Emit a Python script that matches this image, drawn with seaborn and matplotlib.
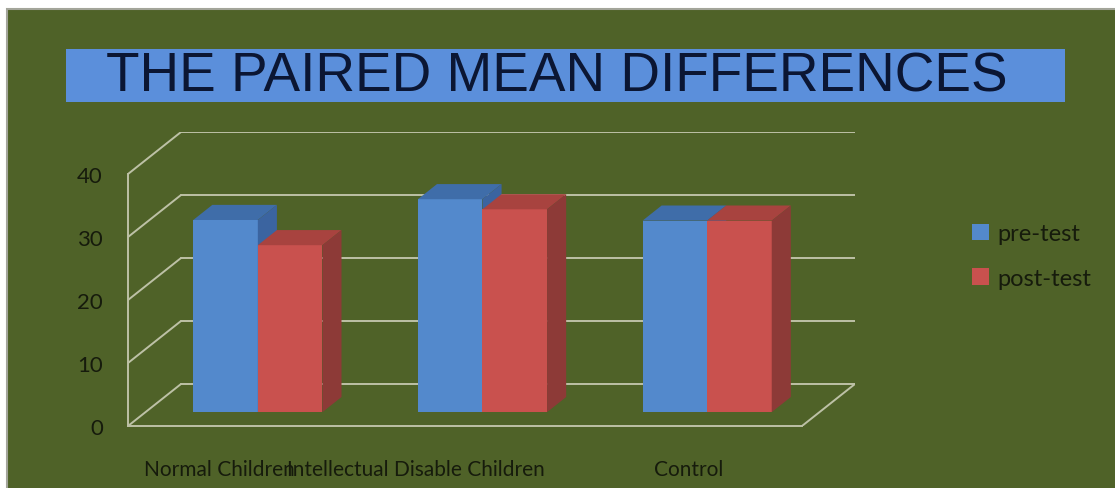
import matplotlib
matplotlib.use("Agg")
import matplotlib.pyplot as plt
from matplotlib.patches import Rectangle, Polygon, Patch
from matplotlib.transforms import ScaledTranslation
import pandas as pd
import seaborn as sns

# Chart data
groups = ["Normal Children", "Intellectual Disable Children", "Control"]
tests = ["pre-test", "post-test"]
pre_test = [30.5, 33.8, 30.4]
post_test = [26.5, 32.2, 30.4]
y_ticks = [0, 10, 20, 30, 40]
title = "THE PAIRED MEAN DIFFERENCES"

# Styling
BG = "#4F6228"
GRID = "#BDC1A6"
TXT = "#161b0c"
FRONT = {"pre-test": "#5389CC", "post-test": "#C9514E"}
TOP = {"pre-test": "#3F6DA9", "post-test": "#A8433F"}
SIDE = {"pre-test": "#3B64A0", "post-test": "#8D3A37"}

# Oblique depth of the 3-D box (category units, value units)
DX, DY = 0.236, 6.67
FRONT_D, BAR_D = 0.33, 0.36

sns.set_style("white")
plt.rcParams["font.family"] = ["Lato", "DejaVu Sans"]

df = pd.DataFrame({
    "group": groups * 2,
    "test": [tests[0]] * 3 + [tests[1]] * 3,
    "score": pre_test + post_test,
})

fig = plt.figure(figsize=(11.15, 4.89), dpi=100)
fig.patch.set_facecolor("white")
fig.patches.append(Rectangle((7 / 1115, -0.02), 1 - 7 / 1115 + 0.01, (489 - 10) / 489 + 0.02,
                             transform=fig.transFigure, facecolor=BG,
                             edgecolor="#A3A59A", linewidth=1.5, zorder=-2))

# Title banner
fig.patches.append(Rectangle((66 / 1115, 1 - 103 / 489), (1065 - 66) / 1115, 53 / 489,
                             transform=fig.transFigure, facecolor="#5B8FDB",
                             edgecolor="none", zorder=-1))
fig.text(557 / 1115, 1 - 78 / 489, title, ha="center", va="center",
         fontsize=39.5, color="#0b1633", family=["Liberation Sans", "DejaVu Sans"])

ax = fig.add_axes([128 / 1115, (489 - 427) / 489, (855 - 128) / 1115, (427 - 133) / 489])
ax.set_zorder(1)
ax.set_facecolor("none")
ax.patch.set_visible(False)

sns.barplot(data=df, x="group", y="score", hue="test", order=groups,
            hue_order=tests, palette=[FRONT[t] for t in tests], width=0.575,
            saturation=1, errorbar=None, legend=False, ax=ax)

ax.set_xlim(-0.5, 2.5 + DX)
ax.set_ylim(0, 40 + DY)

# Back wall gridlines and the oblique connectors of the 3-D frame
for v in y_ticks:
    ax.plot([-0.5 + DX, 2.5 + DX], [v + DY, v + DY], color=GRID, lw=1.4, zorder=1)
    ax.plot([-0.5, -0.5 + DX], [v, v + DY], color=GRID, lw=1.4, zorder=1)
ax.plot([2.5, 2.5 + DX], [0, DY], color=GRID, lw=1.4, zorder=1)

# Turn each flat bar into a box: shift the front face into depth, add top and side
fx, fy = DX * FRONT_D, DY * FRONT_D
bx, by = DX * BAR_D, DY * BAR_D
for k, (test, cont) in enumerate(zip(tests, ax.containers)):
    z = 3 + k
    for bar in cont:
        x0 = bar.get_x() + fx
        w = bar.get_width()
        h = bar.get_height()
        y0 = fy
        bar.set_x(x0)
        bar.set_y(y0)
        bar.set_linewidth(0)
        bar.set_zorder(z)
        top = [(x0, y0 + h), (x0 + w, y0 + h), (x0 + w + bx, y0 + h + by), (x0 + bx, y0 + h + by)]
        side = [(x0 + w, y0), (x0 + w + bx, y0 + by), (x0 + w + bx, y0 + h + by), (x0 + w, y0 + h)]
        ax.add_patch(Polygon(top, closed=True, facecolor=TOP[test], edgecolor="none", zorder=z))
        ax.add_patch(Polygon(side, closed=True, facecolor=SIDE[test], edgecolor="none", zorder=z))

# Front axes
for s in ["top", "right"]:
    ax.spines[s].set_visible(False)
ax.spines["left"].set_bounds(0, 40)
ax.spines["bottom"].set_bounds(-0.5, 2.5)
for s in ["left", "bottom"]:
    ax.spines[s].set_color(GRID)
    ax.spines[s].set_linewidth(1.4)

ax.set_yticks(y_ticks)
ax.set_yticklabels([str(v) for v in y_ticks])
ax.tick_params(axis="y", direction="out", length=4.5, width=1.2, color=GRID,
               pad=13.5, labelsize=16, labelcolor=TXT)
ax.set_xticks([0, 1, 2])
ax.set_xticklabels(groups)
ax.set_xticks([0.5, 1.5, 2.5], minor=True)
ax.tick_params(axis="x", which="major", length=0, pad=24, labelsize=15, labelcolor=TXT)
ax.tick_params(axis="x", which="minor", direction="out", length=4, width=1.2, color=GRID)
for lab, shift in zip(ax.get_xticklabels(), [-21, -49, -1]):
    lab.set_transform(lab.get_transform() + ScaledTranslation(shift / 100, 0, fig.dpi_scale_trans))
ax.set_xlabel("")
ax.set_ylabel("")

handles = [Patch(facecolor=FRONT[t], edgecolor="none", label=t) for t in tests]
fig.legend(handles=handles, loc="center left", bbox_to_anchor=(951 / 1115, 1 - 257 / 489),
           frameon=False, fontsize=17, handlelength=0.7, handleheight=0.7,
           handletextpad=0.35, labelspacing=1.0, labelcolor=TXT)

fig.savefig("out.png", dpi=100, facecolor=fig.get_facecolor())
